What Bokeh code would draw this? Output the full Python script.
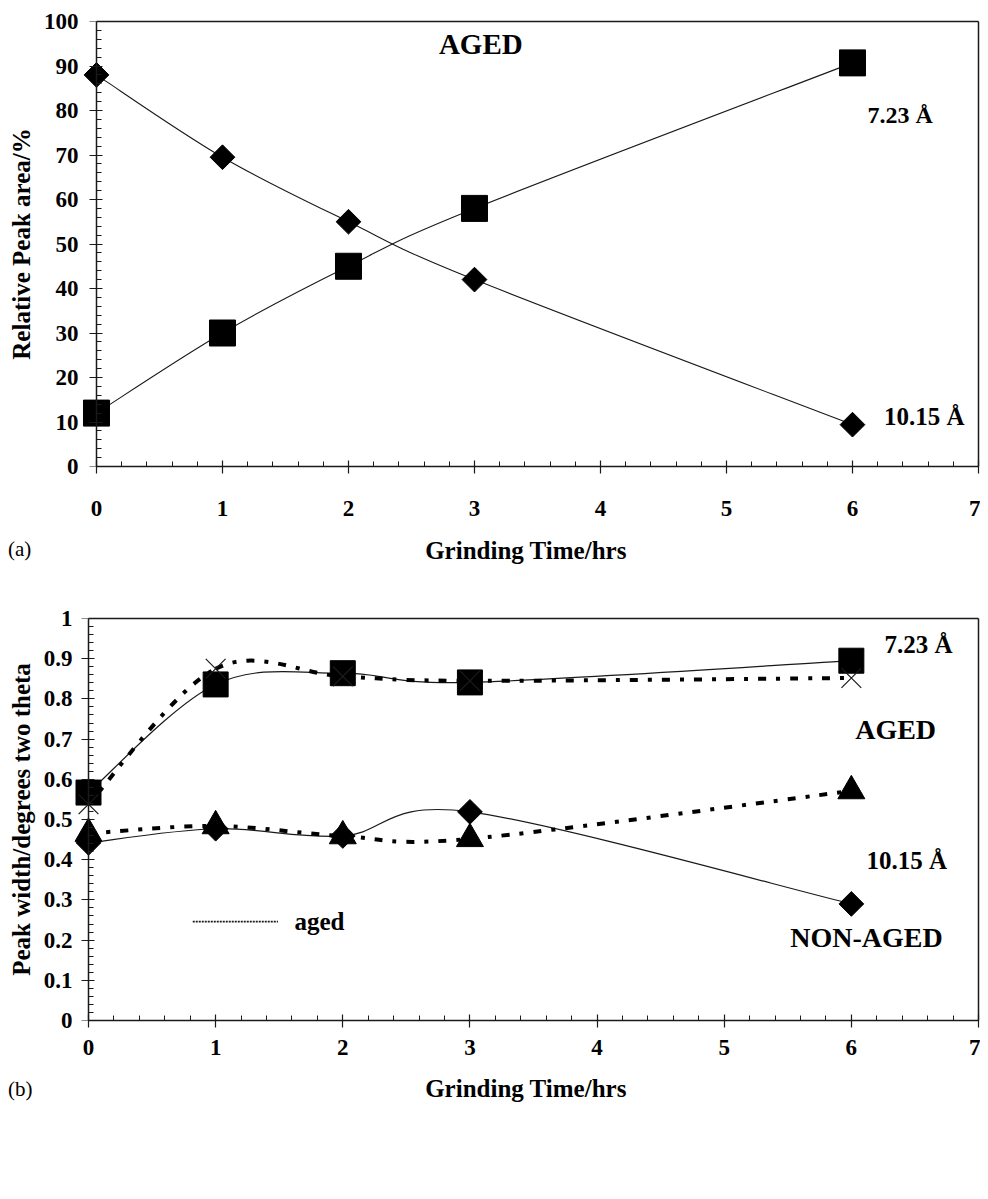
import numpy as np
from bokeh.plotting import figure
from bokeh.models import Range1d, Label, FixedTicker, LinearAxis, GridBox, Div
from bokeh.embed import file_html
from bokeh.resources import INLINE

# ---------------- data ----------------
hours = [0, 1, 2, 3, 6]

# (a) relative peak area, %  (aged)
area_723 = [12.0, 30.0, 45.0, 58.0, 90.7]
area_1015 = [88.0, 69.5, 55.0, 42.0, 9.4]

# (b) peak width, degrees two theta
width_723_nonaged = [0.567, 0.836, 0.864, 0.841, 0.895]
width_723_aged = [0.538, 0.875, 0.856, 0.845, 0.852]
width_1015_nonaged = [0.442, 0.477, 0.459, 0.519, 0.290]
width_1015_aged = [0.465, 0.484, 0.459, 0.452, 0.571]

x_ticks = [0, 1, 2, 3, 4, 5, 6, 7]
x_minor = [round(0.2 * i, 1) for i in range(36)]
ya_ticks = [0, 10, 20, 30, 40, 50, 60, 70, 80, 90, 100]
ya_minor = list(range(0, 101, 2))
yb_ticks = [0, 0.1, 0.2, 0.3, 0.4, 0.5, 0.6, 0.7, 0.8, 0.9, 1]
yb_labels = ["0", "0.1", "0.2", "0.3", "0.4", "0.5", "0.6", "0.7", "0.8", "0.9", "1"]
yb_minor = [round(0.02 * i, 2) for i in range(51)]

legend_line_x = [0.82, 1.49]
legend_line_y = [0.246, 0.246]

FONT = "Liberation Serif"
INK = "#1a1a1a"


def bezier_segments(xs, ys):
    """Excel-style smoothed line: cubic Bezier segments with Catmull-Rom control points."""
    pts = np.column_stack([xs, ys]).astype(float)
    m = len(pts)
    segs = dict(x0=[], y0=[], x1=[], y1=[], cx0=[], cy0=[], cx1=[], cy1=[])
    for i in range(m - 1):
        p0 = pts[i - 1] if i > 0 else pts[i]
        p1 = pts[i]
        p2 = pts[i + 1]
        p3 = pts[i + 2] if i + 2 < m else pts[i + 1]
        c1 = p1 + (p2 - p0) / 6.0
        c2 = p2 - (p3 - p1) / 6.0
        segs["x0"].append(p1[0]); segs["y0"].append(p1[1])
        segs["x1"].append(p2[0]); segs["y1"].append(p2[1])
        segs["cx0"].append(c1[0]); segs["cy0"].append(c1[1])
        segs["cx1"].append(c2[0]); segs["cy1"].append(c2[1])
    return segs


def border_axis(p, side, bounds=None):
    ax = LinearAxis(ticker=FixedTicker(ticks=[]))
    if bounds is not None:
        ax.bounds = bounds
    ax.axis_line_color = INK
    ax.axis_line_width = 1.5
    ax.major_tick_in = 0
    ax.major_tick_out = 0
    ax.minor_tick_in = 0
    ax.minor_tick_out = 0
    ax.major_label_standoff = 0
    ax.major_label_text_color = None
    ax.axis_label_standoff = 0
    p.add_layout(ax, side)


def tick_style(ax):
    ax.axis_line_color = INK
    ax.axis_line_width = 1.5
    ax.major_tick_line_color = INK
    ax.major_tick_line_width = 1.2
    ax.minor_tick_line_color = INK
    ax.minor_tick_line_width = 1.0
    ax.major_tick_in = 6
    ax.major_tick_out = 7
    ax.minor_tick_in = 5
    ax.minor_tick_out = 0


def text_style(ax):
    ax.major_label_text_font = FONT
    ax.major_label_text_font_style = "bold"
    ax.major_label_text_font_size = "23px"
    ax.major_label_text_color = "black"
    ax.axis_label_text_font = FONT
    ax.axis_label_text_font_style = "bold"
    ax.axis_label_text_font_size = "25px"
    ax.axis_label_text_color = "black"


def style(p, yticks, yminor, xlab_std, xaxis_std, ylab_std, yaxis_std):
    p.xgrid.visible = False
    p.ygrid.visible = False
    p.outline_line_color = None
    p.background_fill_color = "white"
    p.border_fill_color = "white"

    # x axis: line and ticks from 0 to 7
    xa = p.xaxis[0]
    xa.ticker = FixedTicker(ticks=x_ticks, minor_ticks=x_minor)
    xa.bounds = (0, 7)
    tick_style(xa)
    text_style(xa)
    xa.major_label_standoff = xlab_std
    xa.axis_label_standoff = xaxis_std

    # y axis, labels only (sits at the frame edge)
    ya = p.yaxis[0]
    ya.ticker = FixedTicker(ticks=yticks, minor_ticks=yminor)
    text_style(ya)
    ya.axis_line_color = None
    ya.major_tick_line_color = None
    ya.minor_tick_line_color = None
    ya.major_tick_in = 0
    ya.major_tick_out = 0
    ya.minor_tick_in = 0
    ya.minor_tick_out = 0
    ya.major_label_standoff = ylab_std
    ya.axis_label_standoff = yaxis_std

    # y axis line and ticks drawn at x = 0 so markers at x = 0 are not cut
    yl = LinearAxis(ticker=FixedTicker(ticks=yticks, minor_ticks=yminor), fixed_location=0)
    tick_style(yl)
    yl.major_label_standoff = 0
    yl.major_label_text_color = None
    yl.axis_label_standoff = 0
    p.add_layout(yl, "left")

    border_axis(p, "above", bounds=(0, 7))
    border_axis(p, "right")


def add_text(p, x, y, text, size="25px", align="left"):
    p.add_layout(Label(x=x, y=y, text=text, text_font=FONT, text_font_style="bold",
                       text_font_size=size, text_align=align, text_baseline="middle",
                       text_color="black"))


def panel_tag(text, top, left):
    return Div(text='<span style="font-family:\'Liberation Serif\';font-size:21px;'
                    'line-height:24px;color:black;">%s</span>' % text,
               width=40, height=26, margin=(top, 0, 0, left))


# ---------------- (a) ----------------
pa = figure(width=980, height=600, x_range=Range1d(-0.1825, 7), y_range=Range1d(0, 100),
            output_backend="svg", toolbar_location=None,
            min_border_left=73, min_border_right=2, min_border_top=21, min_border_bottom=134,
            x_axis_label="Grinding Time/hrs", y_axis_label="Relative Peak area/%")
style(pa, ya_ticks, ya_minor, 27, 18, -5, 6)

pa.bezier(line_color=INK, line_width=1.1, **bezier_segments(hours, area_723))
pa.bezier(line_color=INK, line_width=1.1, **bezier_segments(hours, area_1015))
pa.scatter(hours, area_723, marker="square", size=26, color="black")
pa.scatter(hours, area_1015, marker="square", angle=np.pi / 4, size=17.5, color="black")

add_text(pa, 3.05, 95.0, "AGED", size="29px", align="center")
add_text(pa, 6.12, 78.9, "7.23 Å", size="24px")
add_text(pa, 6.25, 11.2, "10.15 Å", size="25px")

# ---------------- (b) ----------------
pb = figure(width=980, height=520, x_range=Range1d(-0.118, 7), y_range=Range1d(0, 1),
            output_backend="svg", toolbar_location=None,
            min_border_left=73, min_border_right=2, min_border_top=18, min_border_bottom=100,
            x_axis_label="Grinding Time/hrs", y_axis_label="Peak width/degrees two theta")
style(pb, yb_ticks, yb_minor, 12, 17, 1, 6)
pb.yaxis[0].major_label_overrides = {t: s for t, s in zip(yb_ticks, yb_labels)}

DASH = "8 10 4 10"
pb.bezier(line_color=INK, line_width=1.2, **bezier_segments(hours, width_723_nonaged))
pb.bezier(line_color=INK, line_width=1.2, **bezier_segments(hours, width_1015_nonaged))
pb.bezier(line_color="black", line_width=4, line_dash=DASH,
          **bezier_segments(hours, width_723_aged))
pb.bezier(line_color="black", line_width=4, line_dash=DASH,
          **bezier_segments(hours, width_1015_aged))

pb.scatter(hours, width_723_nonaged, marker="square", size=25, color="black")
pb.scatter(hours, width_723_aged, marker="x", size=28, line_color=INK, line_width=1.2)
pb.scatter(hours, width_1015_nonaged, marker="square", angle=np.pi / 4, size=17.5,
           color="black")
pb.scatter(hours, width_1015_aged, marker="triangle", size=27, color="black")

pb.line(legend_line_x, legend_line_y, line_color=INK, line_width=1.6, line_dash="2 1")
add_text(pb, 1.62, 0.246, "aged")
add_text(pb, 6.26, 0.935, "7.23 Å")
add_text(pb, 6.03, 0.724, "AGED", size="28px")
add_text(pb, 6.12, 0.397, "10.15 Å")
add_text(pb, 5.52, 0.206, "NON-AGED", size="28px")

tag_a = panel_tag("(a)", 537, 8)
tag_b = panel_tag("(b)", 477, 8)

layout = GridBox(children=[(pa, 0, 0), (tag_a, 0, 0), (pb, 1, 0), (tag_b, 1, 0)])
open("out.html", "w").write(file_html(layout, INLINE))
